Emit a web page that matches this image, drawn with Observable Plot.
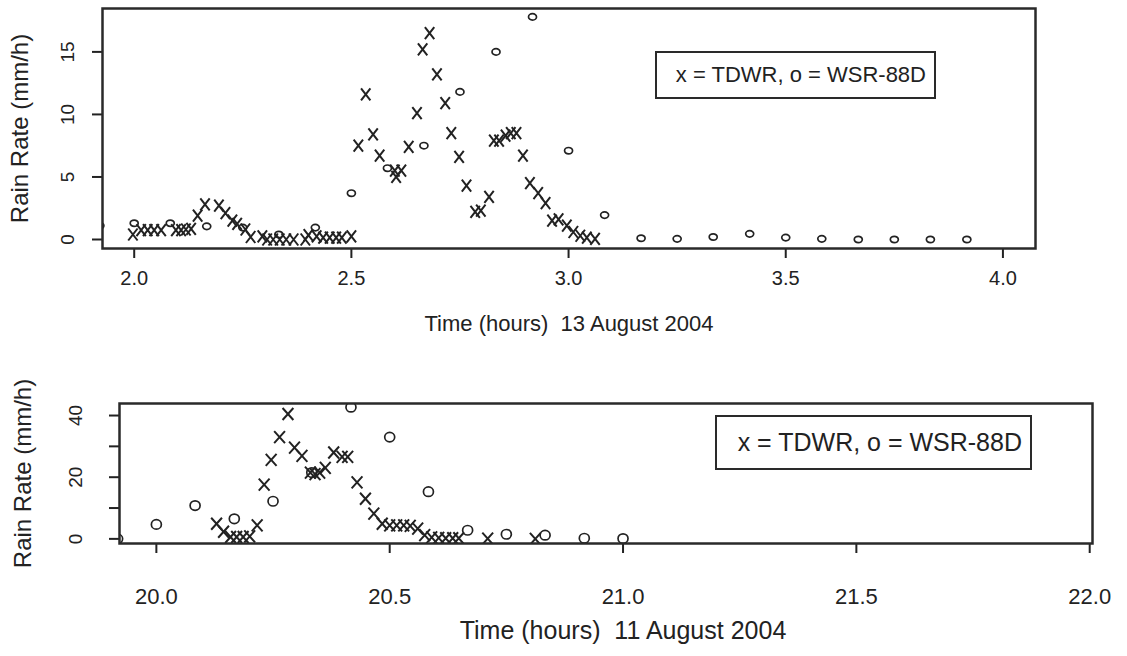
<!DOCTYPE html>
<html><head><meta charset="utf-8">
<script src="https://cdn.jsdelivr.net/npm/d3@7"></script>
<script src="https://cdn.jsdelivr.net/npm/@observablehq/plot@0.6"></script>
<style>
body{margin:0;background:#fff;}
#wrap{position:relative;width:1127px;height:656px;font-family:"Liberation Sans",Arial,sans-serif;color:#222;background:#fff}
#wrap svg{display:block}
.legend{position:absolute;box-sizing:border-box;border:2px solid #2a2a2a;background:#fff;text-align:right;white-space:pre;color:#222}
</style></head><body><div id="wrap"></div>
<script>
// ---- data: 13 August 2004 ----
const tdwrAug13 = [
  [1.997,0.4],[2.016,0.75],[2.031,0.75],[2.046,0.75],[2.062,0.75],[2.096,0.75],[2.108,0.75],[2.119,0.8],[2.131,0.85],
  [2.146,1.9],[2.163,2.8],[2.195,2.7],[2.21,2.1],[2.226,1.5],[2.237,1.25],[2.256,0.8],[2.268,0.2],[2.295,0.25],
  [2.306,0.0],[2.32,0.0],[2.335,0.0],[2.35,0.0],[2.367,0.0],[2.394,0.0],[2.401,0.35],[2.42,0.25],[2.435,0.15],
  [2.45,0.15],[2.465,0.15],[2.478,0.15],[2.5,0.25],[2.516,7.5],[2.533,11.6],[2.55,8.4],[2.565,6.7],[2.6,5.5],
  [2.603,5.0],[2.615,5.5],[2.632,7.4],[2.651,10.1],[2.664,15.2],[2.68,16.5],[2.697,13.2],[2.716,10.9],[2.73,8.5],
  [2.748,6.6],[2.765,4.3],[2.785,2.2],[2.798,2.3],[2.817,3.4],[2.828,7.9],[2.84,7.9],[2.855,8.3],[2.867,8.5],
  [2.88,8.5],[2.895,6.7],[2.911,4.5],[2.93,3.7],[2.947,2.9],[2.962,1.5],[2.977,1.6],[2.996,1.1],[3.011,0.6],
  [3.027,0.3],[3.042,0.15],[3.061,0.05]
];
const wsrAug13 = [
  [1.921,1.1],[2.0,1.3],[2.083,1.3],[2.167,1.05],[2.25,0.95],[2.333,0.4],[2.417,0.95],[2.5,3.7],[2.583,5.7],
  [2.667,7.5],[2.75,11.8],[2.833,15.0],[2.917,17.8],[3.0,7.1],[3.083,1.95],[3.167,0.1],[3.25,0.05],[3.333,0.2],
  [3.417,0.45],[3.5,0.15],[3.583,0.05],[3.667,0.0],[3.75,0.0],[3.833,0.0],[3.917,0.0]
];
// ---- data: 11 August 2004 ----
const tdwrAug11 = [
  [20.129,4.9],[20.144,2.3],[20.159,0.6],[20.172,0.6],[20.186,0.6],[20.2,0.8],[20.216,4.4],[20.231,17.6],
  [20.246,25.6],[20.264,33],[20.282,40.5],[20.296,29.6],[20.312,26.9],[20.33,21.5],[20.34,21],[20.35,21.5],
  [20.362,23],[20.38,28],[20.398,26.6],[20.41,26.6],[20.43,18.3],[20.448,13],[20.466,8.2],[20.484,4.9],
  [20.5,4.4],[20.515,4.4],[20.53,4.4],[20.544,4.2],[20.56,3.3],[20.575,1.2],[20.59,0.5],[20.605,0.3],
  [20.62,0.2],[20.635,0.2],[20.648,0.2],[20.71,0.1],[20.812,0.0]
];
const wsrAug11 = [
  [19.917,0.0],[20.0,4.7],[20.083,10.8],[20.167,6.5],[20.25,12.2],[20.333,21.5],[20.417,42.7],[20.5,33],
  [20.583,15.3],[20.667,2.8],[20.75,1.5],[20.833,1.2],[20.917,0.2],[21.0,0.1]
];
// ---- ticks and texts ----
const xTicksAug13 = [2.0,2.5,3.0,3.5,4.0];
const yTicksAug13 = [0,5,10,15];
const xTicksAug11 = [20.0,20.5,21.0,21.5,22.0];
const yTicksAug11 = [0,10,20,30,40];
const yLabelsAug11 = [0,20,40];
const xTitleAug13 = "Time (hours)\u00a0 13 August 2004";
const xTitleAug11 = "Time (hours)\u00a0 11 August 2004";
const yTitle = "Rain Rate (mm/h)";
const legendText = "x = TDWR, o = WSR-88D";

const fmt = d3.format(".1f");
const ink = "#222";

// "x" marker: a cross slightly taller than wide
function crossSymbol(aspect) {
  return {draw(ctx, size) {
    const r = Math.sqrt(size / Math.PI), w = r * aspect;
    ctx.moveTo(-w, -r); ctx.lineTo(w, r);
    ctx.moveTo(w, -r); ctx.lineTo(-w, r);
  }};
}
// "o" marker: an ellipse
function ovalSymbol(aspect) {
  return {draw(ctx, size) {
    const rx = Math.sqrt(size / Math.PI), ry = rx * aspect, kx = rx * 0.5523, ky = ry * 0.5523;
    ctx.moveTo(rx, 0);
    ctx.bezierCurveTo(rx, ky, kx, ry, 0, ry);
    ctx.bezierCurveTo(-kx, ry, -rx, ky, -rx, 0);
    ctx.bezierCurveTo(-rx, -ky, -kx, -ry, 0, -ry);
    ctx.bezierCurveTo(kx, -ry, rx, -ky, rx, 0);
    ctx.closePath();
  }};
}

function panel(o) {
  return Plot.plot({
    width: 1127, height: o.height,
    marginLeft: o.ml, marginRight: o.mr, marginTop: o.mt, marginBottom: o.mb,
    x: {domain: o.xdom},
    y: {domain: o.ydom},
    style: {fontFamily: "'Liberation Sans', Arial, sans-serif", color: ink, background: "white", overflow: "visible"},
    marks: [
      Plot.axisX({ticks: o.xTicks, tickSize: 10, tickFormat: () => "", strokeWidth: 2, label: null, stroke: ink}),
      Plot.axisY({ticks: o.yTicks, tickSize: 10, tickFormat: () => "", strokeWidth: 2, label: null, stroke: ink}),
      Plot.text(o.xTicks, {x: d => d, frameAnchor: "bottom", dy: o.xlDy, text: d => fmt(d), fontSize: o.xlFs, fill: ink}),
      Plot.text(o.yLabels, {y: d => d, frameAnchor: "left", dx: o.ylDx, rotate: -90, textAnchor: "middle", text: d => String(d), fontSize: o.ylFs, fill: ink}),
      Plot.text([yTitle], {frameAnchor: "left", dx: o.ytDx, rotate: -90, textAnchor: "middle", fontSize: o.ytFs, fill: ink}),
      Plot.text([o.xTitle], {frameAnchor: "bottom", dy: o.xtDy, dx: o.xtDx, fontSize: o.xtFs, fill: ink}),
      Plot.dot(o.wsr, {x: d => d[0], y: d => d[1], symbol: ovalSymbol(o.oAsp), r: o.oR, stroke: ink, strokeWidth: 1.7, fill: "none", clip: true}),
      Plot.dot(o.tdwr, {x: d => d[0], y: d => d[1], symbol: crossSymbol(o.xAsp), r: o.xR, stroke: ink, strokeWidth: 2, fill: "none", clip: true}),
      Plot.frame({stroke: "#2a2a2a", strokeWidth: 2.5})
    ]
  });
}

const wrap = document.getElementById("wrap");
wrap.append(panel({
  height: 345, ml: 102, mr: 92, mt: 8, mb: 97,
  xdom: [1.927, 4.075], ydom: [-0.72, 18.47],
  xTicks: xTicksAug13, yTicks: yTicksAug13, yLabels: yTicksAug13,
  xlDy: 36, xlFs: 20, ylDx: -35, ylFs: 19, ytDx: -82, ytFs: 24,
  xTitle: xTitleAug13, xtDy: 82, xtDx: 0, xtFs: 22,
  wsr: wsrAug13, tdwr: tdwrAug13, oR: 4, oAsp: 0.8, xR: 6, xAsp: 0.78
}));
wrap.append(panel({
  height: 311, ml: 119, mr: 35, mt: 58, mb: 113,
  xdom: [19.921, 22.006], ydom: [-1.5, 43.9],
  xTicks: xTicksAug11, yTicks: yTicksAug11, yLabels: yLabelsAug11,
  xlDy: 60, xlFs: 22, ylDx: -44, ylFs: 19, ytDx: -96, ytFs: 24,
  xTitle: xTitleAug11, xtDy: 95, xtDx: 17, xtFs: 25,
  wsr: wsrAug11, tdwr: tdwrAug11, oR: 5, oAsp: 0.95, xR: 6, xAsp: 0.9
}));

function legend(left, top, w, h, fs) {
  const d = document.createElement("div");
  d.className = "legend";
  Object.assign(d.style, {left: left + "px", top: top + "px", width: w + "px", height: h + "px",
    fontSize: fs + "px", lineHeight: (h - 4) + "px", paddingRight: "8px"});
  d.textContent = legendText;
  wrap.append(d);
}
legend(655, 51, 281, 48, 22);
legend(715, 415, 317, 55, 25);
</script>
</body></html>
